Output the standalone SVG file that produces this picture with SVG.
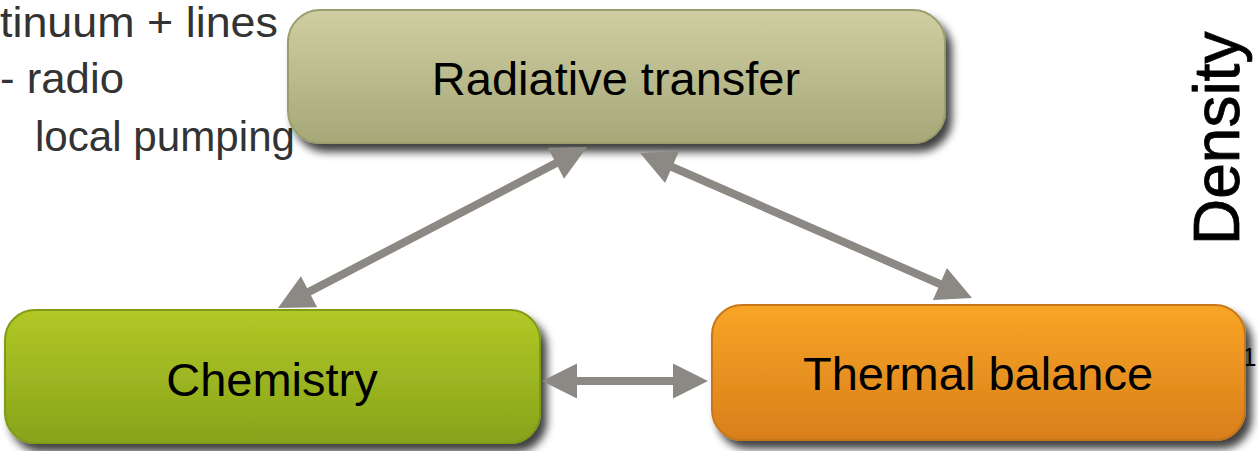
<svg xmlns="http://www.w3.org/2000/svg" width="1258" height="451" viewBox="0 0 1258 451">
<style>
.lbl{font-family:"Liberation Sans",Arial,sans-serif;font-size:47px;fill:#000;text-anchor:middle}
.side{font-family:"Liberation Sans",Arial,sans-serif;font-size:43px;fill:#333}
.conn{stroke:#8c8985;stroke-width:8;fill:none;marker-start:url(#ah);marker-end:url(#ah)}
.node{filter:url(#sh);stroke-width:2}
</style>
<defs>
<linearGradient id="gR" x1="0" y1="0" x2="0" y2="1"><stop offset="0" stop-color="#cfcea2"/><stop offset="1" stop-color="#a6a878"/></linearGradient>
<linearGradient id="gC" x1="0" y1="0" x2="0" y2="1"><stop offset="0" stop-color="#b2c826"/><stop offset="1" stop-color="#88a31b"/></linearGradient>
<linearGradient id="gT" x1="0" y1="0" x2="0" y2="1"><stop offset="0" stop-color="#f8a526"/><stop offset="1" stop-color="#d87f1b"/></linearGradient>
<filter id="sh" x="-10%" y="-20%" width="125%" height="150%"><feDropShadow dx="6" dy="8" stdDeviation="4" flood-color="#000" flood-opacity="0.75"/></filter>
<marker id="ah" markerUnits="userSpaceOnUse" markerWidth="36" markerHeight="36" refX="5" refY="17.5" orient="auto-start-reverse" overflow="visible"><path d="M0,0 L35,17.5 L0,35 z" fill="#8c8985"/></marker>
</defs>
<g id="side-text">
<text class="side" x="0" y="37" textLength="278" lengthAdjust="spacingAndGlyphs">tinuum + lines</text>
<text class="side" x="0" y="93" textLength="124" lengthAdjust="spacingAndGlyphs">- radio</text>
<text class="side" x="35" y="151" textLength="260" lengthAdjust="spacingAndGlyphs">local pumping</text>
<text font-family="Liberation Sans,Arial,sans-serif" font-size="64" fill="#000" stroke="#000" stroke-width="0.8" transform="translate(1239,245) rotate(-90)">Density</text>
<text font-family="Liberation Sans,Arial,sans-serif" font-size="26" fill="#000" x="1242" y="366">1</text>
</g>
<g id="node-radiative">
<rect class="node" x="288" y="10" width="657" height="133" rx="32" fill="url(#gR)" stroke="#9c9d6c"/>
<text class="lbl" x="616" y="95">Radiative transfer</text>
</g>
<g id="node-chemistry">
<rect class="node" x="5" y="310" width="535" height="133" rx="30" fill="url(#gC)" stroke="#7f9c19"/>
<text class="lbl" x="272" y="396">Chemistry</text>
</g>
<g id="node-thermal">
<rect class="node" x="712" y="305" width="533" height="135" rx="30" fill="url(#gT)" stroke="#c6771a"/>
<text class="lbl" x="978" y="390">Thermal balance</text>
</g>
<g id="connectors">
<line class="conn" x1="304.6" y1="294.1" x2="560.4" y2="160.9"/>
<line class="conn" x1="667.5" y1="165" x2="944.5" y2="286"/>
<line class="conn" x1="572" y1="381" x2="678" y2="381"/>
</g>
</svg>
